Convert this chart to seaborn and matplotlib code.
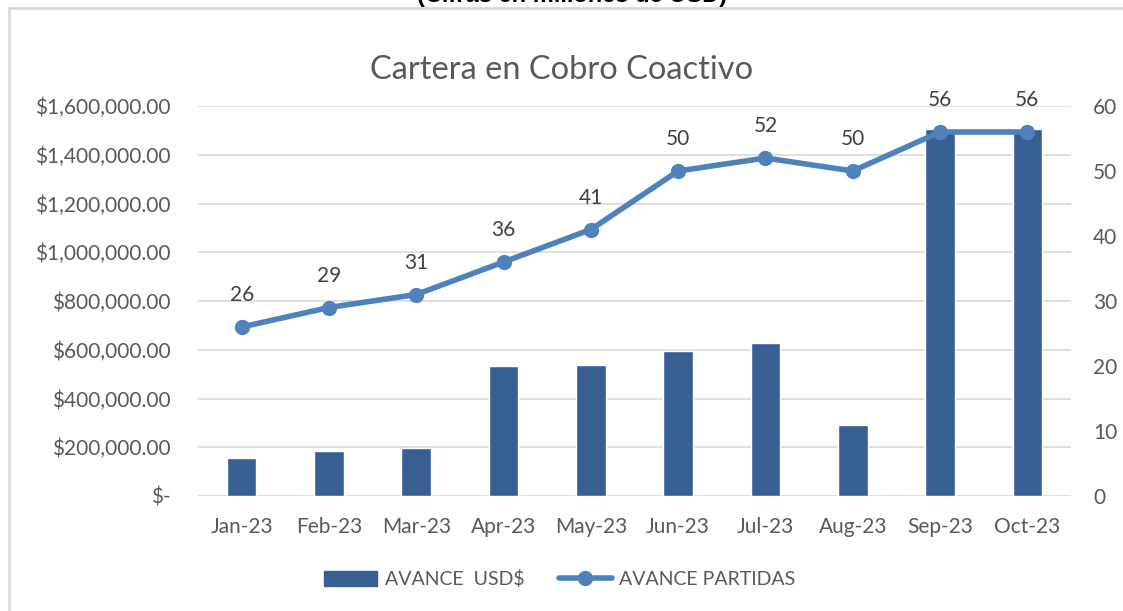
import matplotlib
matplotlib.use("Agg")
import matplotlib.pyplot as plt
import matplotlib.ticker as mticker
from matplotlib.lines import Line2D
from matplotlib.patches import Patch
import seaborn as sns
import pandas as pd

# Monthly collection figures
months = ["Jan-23", "Feb-23", "Mar-23", "Apr-23", "May-23",
          "Jun-23", "Jul-23", "Aug-23", "Sep-23", "Oct-23"]
avance_usd = [157000, 185000, 196000, 535000, 538000,
              595000, 629000, 291000, 1506000, 1506000]
avance_partidas = [26, 29, 31, 36, 41, 50, 52, 50, 56, 56]

left_ticks = [0, 200000, 400000, 600000, 800000, 1000000, 1200000, 1400000, 1600000]
right_ticks = [0, 10, 20, 30, 40, 50, 60]

BAR_COLOR = "#375F92"
LINE_COLOR = "#4F81BD"
TEXT_COLOR = "#595959"
GRID_COLOR = "#D9D9D9"

sns.set_theme(style="white")
plt.rcParams["font.family"] = ["Lato", "DejaVu Sans"]

df = pd.DataFrame({"mes": months, "usd": avance_usd, "partidas": avance_partidas})

fig = plt.figure(figsize=(11.23, 6.11), dpi=100)
ax = fig.add_axes([198 / 1123, 1 - 496 / 611, (1071 - 198) / 1123, (496 - 106) / 611])

sns.barplot(data=df, x="mes", y="usd", color=BAR_COLOR, width=0.34,
            saturation=1, ax=ax, zorder=2)
ax.set_xlim(-0.5, len(months) - 0.5)
ax.set_ylim(0, 1600000)
ax.set_yticks(left_ticks)


def money(v, pos):
    if v == 0:
        return "$-"
    return "${:,.2f}".format(v)


ax.yaxis.set_major_formatter(mticker.FuncFormatter(money))
ax.grid(axis="y", color=GRID_COLOR, linewidth=1.2, zorder=0)
ax.set_axisbelow(True)
ax.set_xlabel("")
ax.set_ylabel("")
for s in ax.spines.values():
    s.set_visible(False)
ax.tick_params(axis="y", length=0, pad=20, labelsize=15, labelcolor=TEXT_COLOR)
ax.tick_params(axis="x", length=0, pad=15, labelsize=15, labelcolor=TEXT_COLOR)

ax2 = ax.twinx()
sns.lineplot(data=df, x="mes", y="partidas", color=LINE_COLOR, linewidth=4,
             marker="o", markersize=11, markeredgewidth=0, ax=ax2, zorder=3)
ax2.set_ylim(0, 60)
ax2.set_yticks(right_ticks)
ax2.set_ylabel("")
for s in ax2.spines.values():
    s.set_visible(False)
ax2.tick_params(axis="y", length=0, pad=16, labelsize=15, labelcolor=TEXT_COLOR)

for i, v in enumerate(avance_partidas):
    ax2.annotate(str(v), (i, v), xytext=(0, 23), textcoords="offset points",
                 ha="center", va="center", fontsize=15, color="#404040")

fig.text(0.5, 1 - 70 / 611, "Cartera en Cobro Coactivo", ha="center", va="center",
         fontsize=23.5, color=TEXT_COLOR)
fig.text(572 / 1123, 1 - 2 / 611, "(Cifras en millones de USD)", ha="center",
         va="baseline", fontsize=17, fontweight="bold", color="black",
         family=["Liberation Sans", "DejaVu Sans"])

# Chart frame
fig.add_artist(Line2D([8.5 / 1123, 8.5 / 1123], [0, 1 - 7.5 / 611],
                      transform=fig.transFigure, color=GRID_COLOR, lw=2))
fig.add_artist(Line2D([8.5 / 1123, 1], [1 - 7.5 / 611, 1 - 7.5 / 611],
                      transform=fig.transFigure, color=GRID_COLOR, lw=2))

handles = [Patch(facecolor=BAR_COLOR, edgecolor=BAR_COLOR),
           Line2D([0], [0], color=LINE_COLOR, lw=4, marker="o", markersize=11,
                  markeredgewidth=0)]
fig.legend(handles, ["AVANCE  USD$", "AVANCE PARTIDAS"], loc="center",
           bbox_to_anchor=(560 / 1123, 1 - 579 / 611), ncol=2, frameon=False,
           fontsize=14, labelcolor=TEXT_COLOR, handlelength=2.7, handleheight=0.8,
           columnspacing=1.8, handletextpad=0.4)

fig.savefig("out.png", dpi=100, facecolor="white")
